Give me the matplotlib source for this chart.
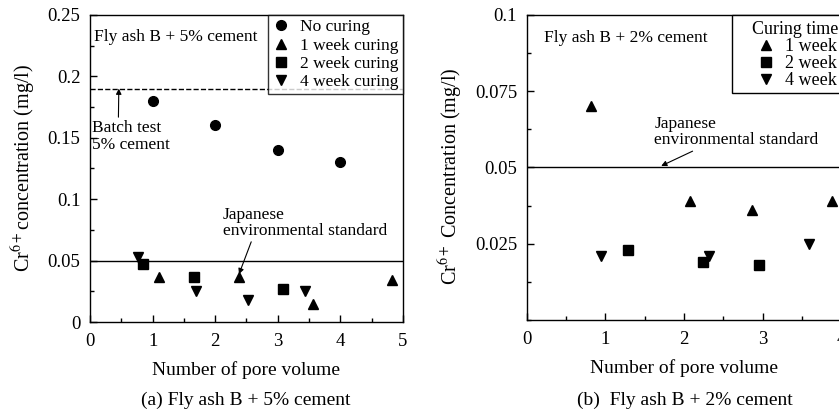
import matplotlib.pyplot as plt
from matplotlib.patches import Rectangle
from matplotlib.ticker import MultipleLocator

plt.rcParams['font.family'] = ['Liberation Serif', 'DejaVu Serif']
plt.rcParams['mathtext.fontset'] = 'stix'

# (a) Fly ash B + 5% cement
a_none_x = [1.0, 2.0, 3.0, 4.0]
a_none_y = [0.18, 0.16, 0.14, 0.13]
a_w1_x = [1.1, 2.38, 3.57, 4.83]
a_w1_y = [0.037, 0.037, 0.015, 0.034]
a_w2_x = [0.85, 1.66, 3.09]
a_w2_y = [0.047, 0.037, 0.027]
a_w4_x = [0.76, 1.7, 2.52, 3.44]
a_w4_y = [0.053, 0.025, 0.018, 0.025]
a_batch = 0.19
standard = 0.05

# (b) Fly ash B + 2% cement
b_w1_x = [0.82, 2.08, 2.87, 3.88]
b_w1_y = [0.070, 0.039, 0.036, 0.039]
b_w2_x = [1.29, 2.24, 2.95]
b_w2_y = [0.023, 0.019, 0.018]
b_w4_x = [0.94, 2.32, 3.59]
b_w4_y = [0.021, 0.021, 0.025]

fig = plt.figure(figsize=(8.39, 4.15), dpi=100)
ax1 = fig.add_axes([0.1073, 0.224, 0.373, 0.740])
ax2 = fig.add_axes([0.628, 0.229, 0.3745, 0.735])

ms = 7
fs = 12.5
for ax in (ax1, ax2):
    ax.tick_params(which='both', direction='in', labelsize=13.5, width=1)
    ax.tick_params(which='major', length=5)
    ax.tick_params(which='minor', length=3)
    ax.tick_params(axis='x', pad=8)
    ax.tick_params(axis='y', pad=7)
    for s in ax.spines.values():
        s.set_linewidth(1)
    ax.xaxis.set_minor_locator(MultipleLocator(0.5))
    ax.set_xlabel('Number of pore volume', fontsize=14, labelpad=8)

# left panel
ax1.axhline(a_batch, color='k', ls='--', lw=1)
ax1.axhline(standard, color='k', lw=1)
ax1.plot(a_none_x, a_none_y, 'o', color='k', ms=ms, label='No curing')
ax1.plot(a_w1_x, a_w1_y, '^', color='k', ms=ms, label='1 week curing')
ax1.plot(a_w2_x, a_w2_y, 's', color='k', ms=ms, label='2 week curing')
ax1.plot(a_w4_x, a_w4_y, 'v', color='k', ms=ms, label='4 week curing')
ax1.set_xlim(0, 5)
ax1.set_ylim(0, 0.25)
ax1.xaxis.set_major_locator(MultipleLocator(1))
ax1.set_yticks([0, 0.05, 0.1, 0.15, 0.2, 0.25])
ax1.set_yticklabels(['0', '0.05', '0.1', '0.15', '0.2', '0.25'])
ax1.yaxis.set_minor_locator(MultipleLocator(0.025))
ax1.set_ylabel(r'Cr$^{6+}$concentration (mg/l)', fontsize=14.5)
ax1.yaxis.set_label_coords(-0.166, 0.5)
leg1 = ax1.legend(loc='upper right', fontsize=fs, frameon=True, fancybox=False,
                  edgecolor='k', borderpad=0.25, handletextpad=0.6,
                  labelspacing=0.12, handlelength=1.0, borderaxespad=0)
leg1.get_frame().set_linewidth(1)
leg1.set_zorder(5)
ax1.text(0.07, 0.232, 'Fly ash B + 5% cement', fontsize=fs, va='center')
ax1.annotate('Batch test\n5% cement', xy=(0.46, a_batch), xytext=(0.03, 0.151),
             fontsize=fs, va='center', linespacing=1.1,
             arrowprops=dict(arrowstyle='-|>', color='k', lw=0.8,
                             mutation_scale=8, shrinkA=0, shrinkB=0,
                             relpos=(0.34, 1.0)))
ax1.annotate('Japanese\nenvironmental standard', xy=(2.38, 0.039),
             xytext=(2.12, 0.0806), fontsize=fs, va='center', linespacing=1.0,
             arrowprops=dict(arrowstyle='-|>', color='k', lw=0.8,
                             mutation_scale=8, shrinkA=0, shrinkB=0,
                             relpos=(0.18, 0.0)))

# right panel
ax2.axhline(standard, color='k', lw=1)
ax2.plot(b_w1_x, b_w1_y, '^', color='k', ms=ms, label='1 week')
ax2.plot(b_w2_x, b_w2_y, 's', color='k', ms=ms, label='2 week')
ax2.plot(b_w4_x, b_w4_y, 'v', color='k', ms=ms, label='4 week')
ax2.set_xlim(0, 4)
ax2.set_ylim(0, 0.1)
ax2.xaxis.set_major_locator(MultipleLocator(1))
ax2.set_yticks([0.025, 0.05, 0.075, 0.1])
ax2.set_yticklabels(['0.025', '0.05', '0.075', '0.1'])
ax2.yaxis.set_minor_locator(MultipleLocator(0.0125))
ax2.set_ylabel(r'Cr$^{6+}$ Concentration (mg/l)', fontsize=14.5)
ax2.yaxis.set_label_coords(-0.197, 0.472)
# legend box runs off the right edge of the picture
ax2.add_patch(Rectangle((0.652, 0.744), 0.5, 0.256, transform=ax2.transAxes,
                        facecolor='white', edgecolor='k', lw=1,
                        clip_on=False, zorder=4))
leg2 = ax2.legend(loc='upper left', bbox_to_anchor=(0.716, 0.98),
                  title='Curing time', fontsize=13, title_fontsize=13,
                  frameon=False, borderpad=0.0, handletextpad=0.25,
                  labelspacing=0.0, handlelength=1.6, borderaxespad=0)
leg2._legend_box.align = 'left'
leg2.set_zorder(5)
ax2.text(0.22, 0.0925, 'Fly ash B + 2% cement', fontsize=fs, va='center')
ax2.annotate('Japanese\nenvironmental standard', xy=(1.71, 0.0505),
             xytext=(1.62, 0.0615), fontsize=fs, va='center', linespacing=1.0,
             arrowprops=dict(arrowstyle='-|>', color='k', lw=0.8,
                             mutation_scale=8, shrinkA=0, shrinkB=0,
                             relpos=(0.27, 0.0)))

fig.text(246 / 839, 1 - 400 / 415, '(a) Fly ash B + 5% cement', fontsize=14,
         ha='center', va='center')
fig.text(685 / 839, 1 - 400 / 415, '(b)  Fly ash B + 2% cement', fontsize=14,
         ha='center', va='center')

fig.savefig('out.png', dpi=100)
